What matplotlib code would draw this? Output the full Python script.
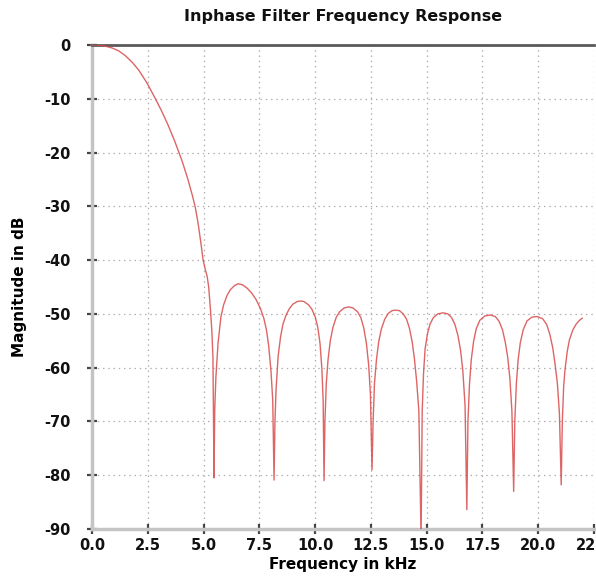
import matplotlib
matplotlib.use("Agg")
import matplotlib.pyplot as plt
import numpy as np

# frequency (kHz) / magnitude (dB)
freq_khz = [
    # main lobe
    0.0, 0.3, 0.6, 0.9, 1.2, 1.5, 1.8, 2.1, 2.47, 2.83, 3.1, 3.4, 3.7, 4.04,
    4.3, 4.5, 4.62, 4.75, 4.87, 4.98, 5.08, 5.16, 5.23, 5.3, 5.37, 5.42, 5.47,
    # side lobes
    5.5, 5.55, 5.65, 5.78, 5.9, 6.05, 6.2, 6.4, 6.55, 6.75, 6.95, 7.15, 7.35,
    7.55, 7.7, 7.82, 7.92, 8.02, 8.1, 8.16,
    8.2, 8.25, 8.34, 8.45, 8.56, 8.7, 8.85, 9.0, 9.2, 9.35, 9.5, 9.7, 9.85,
    10.0, 10.12, 10.22, 10.3, 10.36, 10.4,
    10.44, 10.5, 10.58, 10.68, 10.8, 10.95, 11.1, 11.3, 11.5, 11.7, 11.9,
    12.05, 12.18, 12.3, 12.4, 12.48, 12.55,
    12.6, 12.66, 12.75, 12.85, 12.97, 13.12, 13.28, 13.45, 13.6, 13.78, 13.95,
    14.1, 14.23, 14.35, 14.45, 14.55, 14.65, 14.75,
    14.8, 14.86, 14.93, 15.03, 15.15, 15.3, 15.5, 15.74, 15.95, 16.12, 16.27,
    16.4, 16.52, 16.62, 16.72, 16.8,
    16.85, 16.92, 17.0, 17.1, 17.22, 17.38, 17.6, 17.85, 18.08, 18.25, 18.4,
    18.52, 18.63, 18.73, 18.82, 18.9,
    18.95, 19.02, 19.1, 19.2, 19.33, 19.5, 19.72, 19.96, 20.2, 20.38, 20.52,
    20.65, 20.76, 20.86, 20.95, 21.03,
    21.08, 21.14, 21.2, 21.3, 21.4, 21.55, 21.7, 21.85, 21.97,
]
mag_db = [
    0.0, -0.05, -0.22, -0.55, -1.1, -2.0, -3.2, -4.7, -7.1, -9.9, -12.1, -14.8, -17.8, -21.6,
    -25.0, -28.0, -30.0, -33.0, -36.5, -40.0, -41.8, -43.0, -45.0, -48.7, -53.0, -58.0, -80.5,
    -68.0, -62.0, -55.4, -50.5, -48.3, -46.6, -45.5, -44.7, -44.4, -44.6, -45.2, -46.1, -47.3,
    -49.0, -50.8, -53.0, -56.0, -60.5, -66.0, -80.9,
    -70.0, -64.0, -58.0, -54.3, -51.9, -50.2, -49.0, -48.2, -47.7, -47.6, -47.7, -48.3, -49.1,
    -50.5, -52.5, -55.5, -60.0, -66.0, -81.0,
    -70.0, -63.0, -58.5, -55.0, -52.5, -50.6, -49.6, -48.9, -48.7, -48.9, -49.6,
    -50.7, -52.6, -55.5, -59.5, -65.0, -79.0,
    -70.0, -63.0, -58.5, -55.2, -52.8, -51.0, -49.9, -49.4, -49.3, -49.4, -50.0,
    -51.0, -52.7, -55.2, -58.3, -62.5, -68.0, -92.0,
    -68.0, -61.0, -56.5, -53.8, -51.9, -50.7, -50.0, -49.8, -50.0, -50.7, -52.0,
    -54.0, -56.8, -60.5, -67.0, -86.4,
    -70.0, -63.0, -58.5, -55.2, -52.8, -51.2, -50.4, -50.2, -50.5, -51.4, -53.0,
    -55.2, -58.0, -62.0, -68.0, -83.0,
    -70.0, -63.0, -58.5, -55.3, -52.9, -51.3, -50.6, -50.5, -50.9, -52.0, -53.8,
    -56.3, -59.5, -63.0, -68.5, -81.8,
    -70.0, -63.5, -60.4, -57.0, -54.8, -53.0, -51.9, -51.2, -50.8,
]

x_ticks = [0.0, 2.5, 5.0, 7.5, 10.0, 12.5, 15.0, 17.5, 20.0, 22.5]
y_ticks = [0, -10, -20, -30, -40, -50, -60, -70, -80, -90]

fig = plt.figure(figsize=(5.96, 5.81), dpi=100)
ax = fig.add_axes([92 / 596, 1 - 529 / 581, (594 - 92) / 596, (529 - 45) / 581])

ax.plot(freq_khz, mag_db, color="#d84a4a", lw=1.0, alpha=0.85, zorder=3)

ax.set_xlim(0, 22.5)
ax.set_ylim(-90, 0)
ax.set_xticks(x_ticks)
ax.set_xticklabels(["%.1f" % v for v in x_ticks])
ax.set_yticks(y_ticks)
ax.set_yticklabels([str(v) for v in y_ticks])

ax.grid(True, color="#b0b0b0", linestyle=(0, (1.2, 3)), lw=0.9)
ax.set_axisbelow(True)

for s in ["left", "bottom"]:
    ax.spines[s].set_color("#c4c4c4")
    ax.spines[s].set_linewidth(2.5)
ax.spines["top"].set_color("#5a5a5a")
ax.spines["top"].set_linewidth(2.0)
ax.spines["right"].set_visible(False)

ax.tick_params(direction="inout", length=7, width=1.6, color="#444444",
               labelsize=10.5)
ax.tick_params(axis="y", pad=12)
ax.tick_params(axis="x", pad=3)
for lbl in ax.get_xticklabels() + ax.get_yticklabels():
    lbl.set_fontweight("bold")
    lbl.set_color("#111111")

ax.set_title("Inphase Filter Frequency Response", fontsize=11.5,
             fontweight="bold", pad=17, color="#111111")
ax.set_xlabel("Frequency in kHz", fontsize=11, fontweight="bold", labelpad=3)
ax.set_ylabel("Magnitude in dB", fontsize=11, fontweight="bold", labelpad=12)

fig.savefig("out.png", dpi=100)
